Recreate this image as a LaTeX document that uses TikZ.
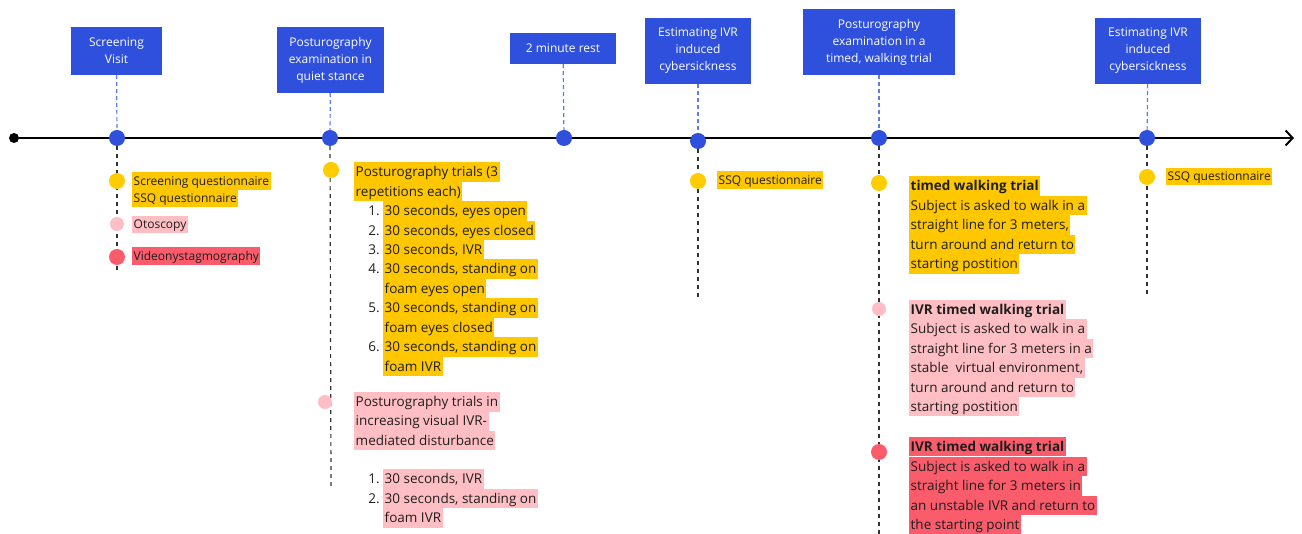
\documentclass[tikz,border=0pt]{standalone}
\usepackage{fontspec}
\setmainfont{Open Sans}
\usetikzlibrary{arrows.meta,backgrounds}
\definecolor{boxblue}{RGB}{46,80,220}
\definecolor{lineblue}{RGB}{95,125,230}
\definecolor{hlyellow}{RGB}{255,199,0}
\definecolor{dotyellow}{RGB}{255,204,0}
\definecolor{hlpink}{RGB}{255,190,195}
\definecolor{hlred}{RGB}{250,92,108}
\definecolor{txt}{RGB}{30,30,30}
\begin{document}
\begin{tikzpicture}[x=1pt,y=-1pt,
  box/.style={fill=boxblue, text=white, align=center, inner sep=0pt, font=\fontsize{12}{17}\selectfont},
  dotbase/.style={circle, inner sep=0pt, minimum size=16pt},
  bdot/.style={dotbase, fill=boxblue},
  ydot/.style={dotbase, fill=dotyellow},
  pdot/.style={dotbase, fill=hlpink, minimum size=14pt},
  rdot/.style={dotbase, fill=hlred},
  tick/.style={draw=lineblue, line width=1.2pt, dash pattern=on 4pt off 3pt},
  stem/.style={draw=black!80, line width=1.2pt, dash pattern=on 4pt off 4pt},
  hl/.style={anchor=west, inner xsep=1.5pt, inner ysep=0pt, text height=14.6pt, text depth=4.9pt, text=txt, font=\fontsize{13.5}{16}\selectfont},
  hls/.style={anchor=west, inner xsep=1.5pt, inner ysep=0pt, text height=13pt, text depth=4.5pt, text=txt, font=\fontsize{12}{14}\selectfont},
  hy/.style={hl, fill=hlyellow},
  hp/.style={hl, fill=hlpink},
  hr/.style={hl, fill=hlred},
  num/.style={anchor=east, inner sep=0pt, text height=14.6pt, text depth=4.9pt, text=txt, font=\fontsize{13.5}{16}\selectfont}
]
\useasboundingbox (0,0) rectangle (1302,534);

% boxes
\node[box, minimum width=91pt, minimum height=48pt] (b1) at (116.5,51) {Screening\\Visit};
\node[box, minimum width=107pt, minimum height=66pt] (b2) at (330.5,60) {Posturography\\examination in\\quiet stance};
\node[box, minimum width=106pt, minimum height=31pt] (b3) at (563,48.5) {2 minute rest};
\node[box, minimum width=106pt, minimum height=66pt] (b4) at (698,51) {Estimating IVR\\induced\\cybersickness};
\node[box, minimum width=152pt, minimum height=66pt] (b5) at (879,42) {Posturography\\examination in a\\timed, walking trial};
\node[box, minimum width=106pt, minimum height=66pt] (b6) at (1148,51) {Estimating IVR\\induced\\cybersickness};

% timeline
\node[circle, fill=black, inner sep=0pt, minimum size=10pt] (start) at (14,138) {};
\coordinate (end) at (1294,138);
\node[bdot] (d1) at (117,138) {};
\node[bdot] (d2) at (330,138) {};
\node[bdot] (d3) at (564,138) {};
\node[bdot] (d4) at (698,141) {};
\node[bdot] (d5) at (879,138) {};
\node[bdot] (d6) at (1147,138) {};

% sub dots
\node[ydot] (y1) at (117,181) {};
\node[pdot] (p1) at (117,224) {};
\node[rdot] (r1) at (117,257) {};
\node[ydot] (y2) at (331,170) {};
\node[pdot] (p2) at (325,402) {};
\node[ydot] (y4) at (698,181) {};
\node[ydot] (y5) at (879,183) {};
\node[pdot] (p5) at (879,309) {};
\node[rdot] (r5) at (879,452) {};
\node[ydot] (y6) at (1147,177) {};

\coordinate (e1) at (117,272);
\coordinate (e2) at (331,488);
\coordinate (e4) at (698,300);
\coordinate (e5) at (879,534);
\coordinate (e6) at (1147,297);

\begin{scope}[on background layer]
  \draw[line width=2pt, -{Straight Barb[length=7pt,width=15pt,line width=2pt]}] (start) -- (end);
  \foreach \b/\d in {b1/d1,b2/d2,b3/d3,b4/d4,b5/d5,b6/d6} \draw[tick] (\b) -- (\d);
  \foreach \d/\e in {d1/e1,d2/e2,d4/e4,d5/e5,d6/e6} \draw[stem] (\d) -- (\e);
\end{scope}

% column 1
\node[hls, fill=hlyellow] (t11) at (132,181) {Screening questionnaire};
\node[hls, fill=hlyellow] (t12) at (132,198.5) {SSQ questionnaire};
\node[hls, fill=hlpink] (t13) at (132,224.5) {Otoscopy};
\node[hls, fill=hlred] (t14) at (132,256) {Videonystagmography};

% column 2
\node[hy] (t21) at (354,172) {Posturography trials (3};
\node[hy] (t22) at (354,191.5) {repetitions each)};
\foreach \n/\yy in {1./211, 2./230.5, 3./250, 4./269, 5./308, 6./347}
  \node[num] (n\yy) at (380,\yy) {\n};
\foreach \t/\yy [count=\i] in {{30 seconds, eyes open}/211, {30 seconds, eyes closed}/230.5, {30 seconds, IVR}/250, {30 seconds, standing on}/269, {foam eyes open}/288.5, {30 seconds, standing on}/308, {foam eyes closed}/327.5, {30 seconds, standing on}/347, {foam IVR}/366.5}
  \node[hy] (li\i) at (383,\yy) {\t};
\node[hp] (t23) at (354,402) {Posturography trials in};
\node[hp] (t24) at (354,421) {increasing visual IVR-};
\node[hp] (t25) at (354,440.5) {mediated disturbance};
\node[num] (m1) at (380,479) {1.};
\node[num] (m2) at (380,498.5) {2.};
\node[hp] (lp1) at (383,479) {30 seconds, IVR};
\node[hp] (lp2) at (383,498.5) {30 seconds, standing on};
\node[hp] (lp3) at (383,518) {foam IVR};

% column 3
\node[hls, fill=hlyellow] (t31) at (717,180) {SSQ questionnaire};

% column 4
\foreach \t/\yy [count=\i] in {{\bfseries timed walking trial}/186, {Subject is asked to walk in a}/205.5, {straight line for 3 meters,}/225, {turn around and return to}/244.5, {starting postition}/264}
  \node[hy] (wy\i) at (909,\yy) {\t};
\foreach \t/\yy [count=\i] in {{\bfseries IVR timed walking trial}/309.3, {Subject is asked to walk in a}/329, {straight line for 3 meters in a}/348.5, {stable~~virtual environment,}/368, {turn around and return to}/387.3, {starting postition}/406.7}
  \node[hp] (wp\i) at (909,\yy) {\t};
\foreach \t/\yy [count=\i] in {{\bfseries IVR timed walking trial}/446.7, {Subject is asked to walk in a}/466.5, {straight line for 3 meters in}/486, {an unstable IVR and return to}/505.5, {the starting point}/525}
  \node[hr] (wr\i) at (909,\yy) {\t};

% column 5
\node[hls, fill=hlyellow] (t51) at (1166,176.5) {SSQ questionnaire};
\end{tikzpicture}
\end{document}
